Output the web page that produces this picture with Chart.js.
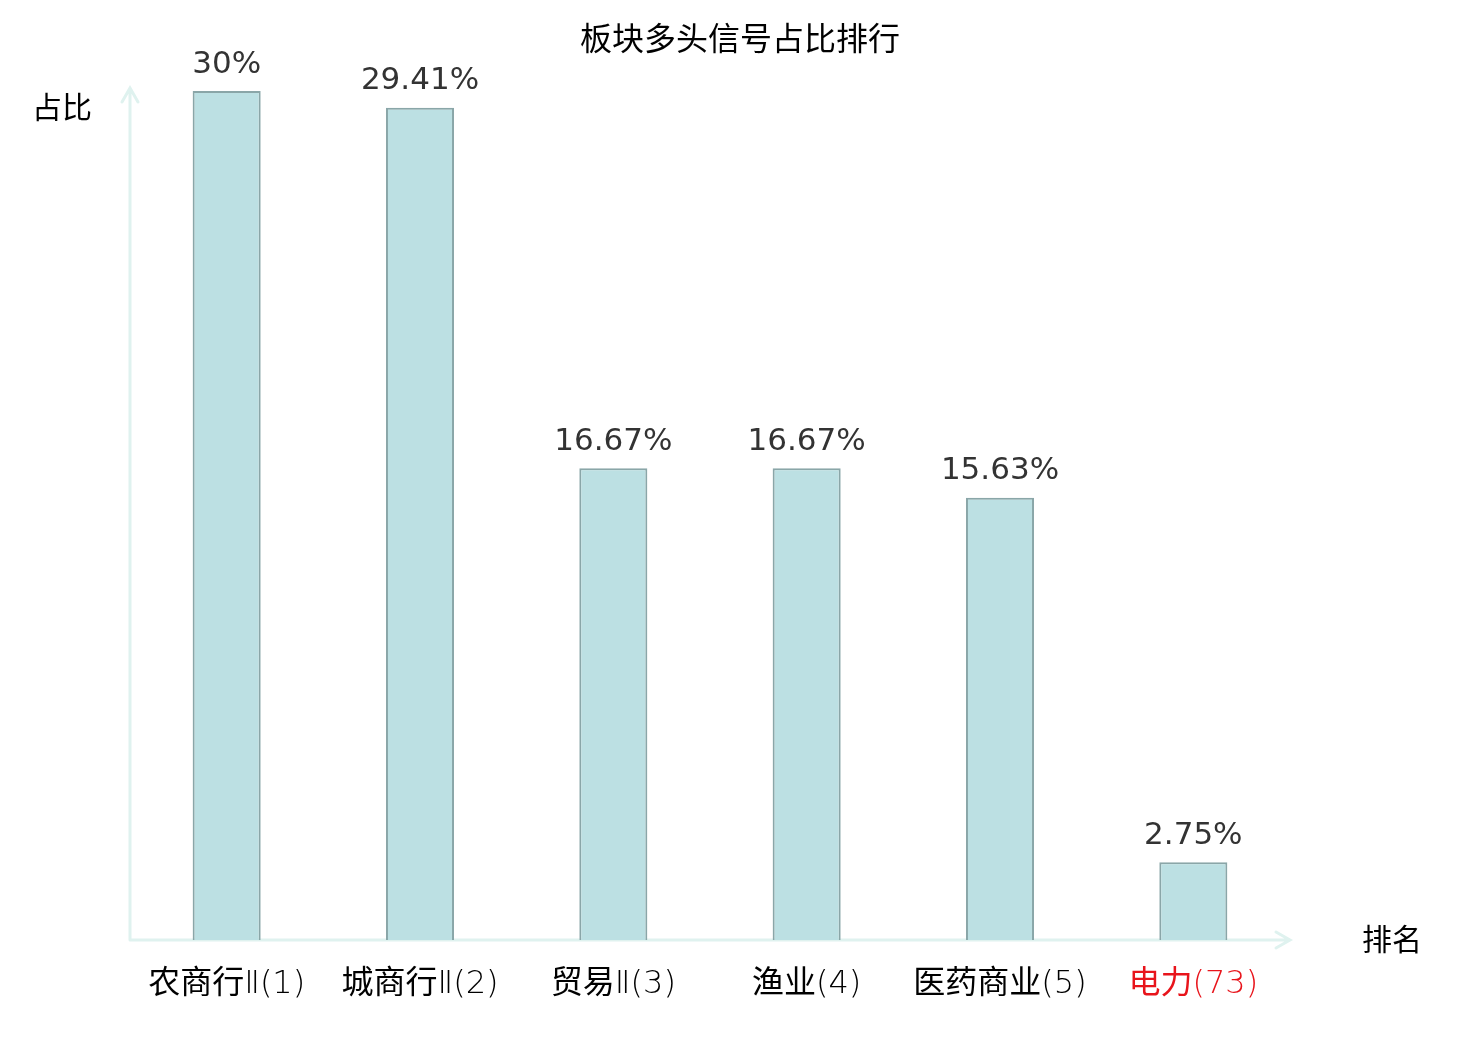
<!DOCTYPE html>
<html>
<head>
<meta charset="utf-8">
<script src="https://cdn.jsdelivr.net/npm/chart.js@4"></script>
<style>
  body { margin: 0; background: #fff; }
  #wrap { width: 1480px; height: 1040px; }
</style>
</head>
<body>
<div id="wrap"><canvas id="chart" width="1480" height="1040"></canvas></div>
<script>
// data
const categories = ["农商行Ⅱ(1)", "城商行Ⅱ(2)", "贸易Ⅱ(3)", "渔业(4)", "医药商业(5)", "电力(73)"];
const ratios = [30, 29.41, 16.67, 16.67, 15.63, 2.75];
const highlight = [false, false, false, false, false, true];

const FONT = '"DejaVu Sans", "Noto Sans CJK SC", sans-serif';
const axisColor = "#dff2ef";

// axes with arrows, axis names, title, category and value labels
const decorations = {
    id: "decorations",
    beforeDatasetsDraw(chart) {
        const ctx = chart.ctx;
        const a = chart.chartArea;
        ctx.save();
        ctx.strokeStyle = axisColor;
        ctx.lineWidth = 3;
        ctx.lineCap = "round";
        // y axis
        ctx.beginPath();
        ctx.moveTo(a.left, a.bottom);
        ctx.lineTo(a.left, a.top - 3);
        ctx.moveTo(a.left - 8, a.top + 11);
        ctx.lineTo(a.left, a.top - 3);
        ctx.lineTo(a.left + 8, a.top + 11);
        // x axis
        ctx.moveTo(a.left, a.bottom);
        ctx.lineTo(a.right, a.bottom);
        ctx.moveTo(a.right - 14, a.bottom - 8);
        ctx.lineTo(a.right, a.bottom);
        ctx.lineTo(a.right - 14, a.bottom + 8);
        ctx.stroke();
        ctx.restore();
    },
    afterDatasetsDraw(chart) {
        const ctx = chart.ctx;
        const a = chart.chartArea;
        ctx.save();
        ctx.fillStyle = "#000";
        ctx.textBaseline = "middle";
        ctx.textAlign = "center";
        ctx.font = "32px " + FONT;
        ctx.fillText("板块多头信号占比排行", 740, 42);
        ctx.font = "30px " + FONT;
        ctx.textAlign = "right";
        ctx.fillText("占比", 92, 110);
        ctx.textAlign = "left";
        ctx.fillText("排名", a.right + 72, a.bottom + 2);

        // category labels: chinese part regular, rank part light
        const xScale = chart.scales.x;
        const regular = "32px " + FONT;
        const light = "200 32px " + FONT;
        ctx.textAlign = "left";
        categories.forEach(function(label, i) {
            const m = label.match(/^([^Ⅱ(]+)(.*)$/);
            const head = m[1], tail = m[2];
            ctx.font = regular;
            const w1 = ctx.measureText(head).width;
            ctx.font = light;
            const w2 = ctx.measureText(tail).width;
            const x0 = xScale.getPixelForTick(i) - (w1 + w2) / 2;
            ctx.fillStyle = highlight[i] ? "#e8141b" : "#000";
            ctx.font = regular;
            ctx.fillText(head, x0, 985);
            ctx.font = light;
            ctx.fillText(tail, x0 + w1, 985);
        });

        // value labels above bars
        ctx.font = "31px " + FONT;
        ctx.fillStyle = "#333333";
        ctx.textAlign = "center";
        ctx.textBaseline = "bottom";
        chart.getDatasetMeta(0).data.forEach(function(bar, i) {
            ctx.fillText(ratios[i] + "%", bar.x, bar.y - 11);
        });
        ctx.restore();
    }
};

const chart = new Chart(document.getElementById("chart").getContext("2d"), {
    type: "bar",
    data: {
        labels: categories,
        datasets: [{
            data: ratios,
            backgroundColor: "#bce0e3",
            borderColor: "#8aa6a8",
            borderWidth: 2,
            barPercentage: 0.352,
            categoryPercentage: 1
        }]
    },
    options: {
        responsive: false,
        devicePixelRatio: 1,
        animation: false,
        layout: {
            padding: { top: 91, left: 130, right: 190, bottom: 0 }
        },
        plugins: {
            legend: { display: false },
            title: { display: false },
            tooltip: { enabled: false }
        },
        scales: {
            x: {
                grid: { display: false, drawTicks: false },
                border: { display: false },
                ticks: { display: false },
                afterFit: function(scale) { scale.height = 100; }
            },
            y: {
                display: false,
                min: 0,
                max: 30
            }
        }
    },
    plugins: [decorations]
});
</script>
</body>
</html>
